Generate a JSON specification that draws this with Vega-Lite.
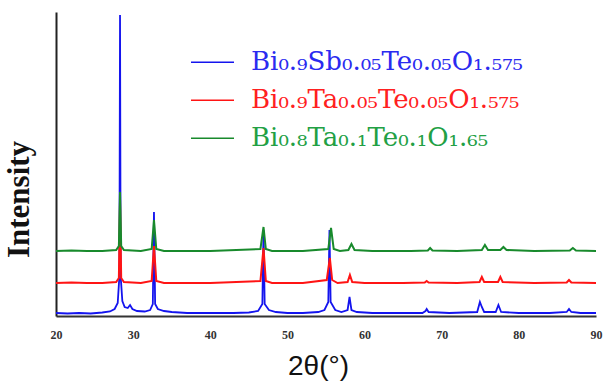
{
  "$schema": "https://vega.github.io/schema/vega-lite/v6.json",
  "width": 540,
  "height": 304,
  "autosize": {"type": "none"},
  "padding": {"left": 56, "top": 12, "right": 7, "bottom": 67},
  "background": "white",
  "config": {"view": {"stroke": null}, "legend": {"labelFont": "DejaVu Serif"}},
  "datasets": {
    "blue": [[20,3],[21.5,2.5],[23,3],[24.5,2.5],[26,3.5],[27,4.5],[27.6,7],[28.0,13],[28.22,40],[28.3,301],[28.38,40],[28.6,15],[28.9,9],[29.3,8],[29.6,11],[29.9,7],[30.5,5],[31.5,4.5],[32.2,6],[32.55,12],[32.7,104],[32.85,12],[33.2,7],[34,5],[35,4],[37,3],[40,3],[43,3],[45,3.5],[46.2,5],[46.75,12],[46.9,86],[47.05,12],[47.6,6],[48.5,4],[50,3],[52,3],[54,4],[54.8,6],[55.3,14],[55.45,86],[55.6,14],[56.2,6],[57,4],[57.8,6],[58.05,19],[58.3,6],[59,4],[61,3],[64,3],[67.5,3],[67.9,5],[68.05,7],[68.3,4],[71,3],[74.6,4],[74.95,14],[75.2,9],[75.5,4],[77.0,4],[77.35,11],[77.7,4],[80,3],[84,3],[86.2,4],[86.5,7],[86.8,4],[88,3],[90,3]],
    "red": [[20,33],[22,33.5],[24,33],[26,33],[27.8,34],[28.15,38],[28.3,116],[28.45,38],[28.8,34],[31,33],[32.4,35],[32.7,70],[33.0,35],[34,33],[40,33],[46.5,35],[46.9,68],[47.2,35],[48,33],[52,33],[55.1,36],[55.5,58],[55.8,36],[56.5,33],[57.8,34],[58.1,41],[58.4,34],[60,33],[65,33],[67.8,33.5],[68.05,35],[68.3,33.5],[72,33],[74.9,34],[75.2,39],[75.5,34],[77.3,34],[77.6,39],[77.9,34],[82,33],[86.2,33.5],[86.5,36],[86.8,33.5],[90,33]],
    "green": [[20,65],[22,65.5],[24,65],[26,65],[27.8,66],[28.15,70],[28.3,124],[28.45,70],[28.8,66],[31,65],[32.4,67],[32.7,96],[33.0,67],[34,65],[40,65],[46.5,67],[46.9,89],[47.2,67],[48,65],[52,65],[55.3,67],[55.65,88],[56.0,67],[56.8,65],[57.9,66],[58.3,72],[58.7,66],[61,65],[66,65],[68.2,65.5],[68.5,68],[68.8,65.5],[72,65],[75.2,66],[75.6,71],[76.0,66],[77.6,66],[78.0,69],[78.4,66],[82,65],[86.6,65.5],[87.0,68],[87.4,65.5],[90,65]]
  },
  "encoding": {
    "x": {
      "field": "x", "type": "quantitative",
      "scale": {"domain": [20, 90], "nice": false, "zero": false},
      "axis": {
        "values": [20, 30, 40, 50, 60, 70, 80, 90],
        "grid": false, "tickSize": 0, "tickWidth": 0, "labelFlush": false,
        "domainColor": "#333333", "domainWidth": 2,
        "labelFont": "Liberation Serif", "labelFontWeight": "bold", "labelFontSize": 12,
        "labelColor": "#333333", "labelPadding": 13,
        "title": "2θ(°)", "titleFont": "Liberation Sans", "titleFontSize": 28,
        "titleFontWeight": "normal", "titleColor": "#111111",
        "titleX": 262, "titleY": 58, "titleBaseline": "alphabetic", "titleAlign": "center"
      }
    },
    "y": {
      "field": "y", "type": "quantitative",
      "scale": {"domain": [0, 304], "nice": false},
      "axis": {
        "grid": false, "ticks": false, "labels": false, "tickSize": 0,
        "domainColor": "#222222", "domainWidth": 2,
        "title": "Intensity", "titleFont": "Liberation Serif", "titleFontWeight": "bold",
        "titleFontSize": 31, "titleColor": "#111111",
        "titleX": -21, "titleY": 187, "titleAlign": "center", "titleBaseline": "bottom", "titleAngle": -90
      }
    },
    "color": {
      "field": "s", "type": "nominal",
      "scale": {
        "domain": ["Bi₀.₉Sb₀.₀₅Te₀.₀₅O₁.₅₇₅", "Bi₀.₉Ta₀.₀₅Te₀.₀₅O₁.₅₇₅", "Bi₀.₈Ta₀.₁Te₀.₁O₁.₆₅"],
        "range": ["#1414ee", "#ff1414", "#188a2c"]
      },
      "legend": {
        "orient": "none", "legendX": 134, "legendY": 32, "title": null, "padding": 0,
        "symbolType": "stroke", "symbolSize": 1849, "symbolStrokeWidth": 1.5,
        "labelFont": "DejaVu Serif", "labelFontSize": 26, "labelOffset": 16,
        "labelLimit": 500, "rowPadding": 1, "gridAlign": "all", "clipHeight": 36.5,
        "labelColor": {"expr": "datum.value == 'Bi₀.₉Sb₀.₀₅Te₀.₀₅O₁.₅₇₅' ? '#2a2af0' : datum.value == 'Bi₀.₉Ta₀.₀₅Te₀.₀₅O₁.₅₇₅' ? '#ff2020' : '#22a044'"}
      }
    }
  },
  "layer": [
    {
      "data": {"name": "blue"},
      "transform": [
        {"calculate": "datum[0]", "as": "x"},
        {"calculate": "datum[1]", "as": "y"},
        {"calculate": "'Bi₀.₉Sb₀.₀₅Te₀.₀₅O₁.₅₇₅'", "as": "s"}
      ],
      "mark": {"type": "line", "strokeWidth": 1.8}
    },
    {
      "data": {"name": "red"},
      "transform": [
        {"calculate": "datum[0]", "as": "x"},
        {"calculate": "datum[1]", "as": "y"},
        {"calculate": "'Bi₀.₉Ta₀.₀₅Te₀.₀₅O₁.₅₇₅'", "as": "s"}
      ],
      "mark": {"type": "line", "strokeWidth": 2}
    },
    {
      "data": {"name": "green"},
      "transform": [
        {"calculate": "datum[0]", "as": "x"},
        {"calculate": "datum[1]", "as": "y"},
        {"calculate": "'Bi₀.₈Ta₀.₁Te₀.₁O₁.₆₅'", "as": "s"}
      ],
      "mark": {"type": "line", "strokeWidth": 2}
    }
  ]
}
